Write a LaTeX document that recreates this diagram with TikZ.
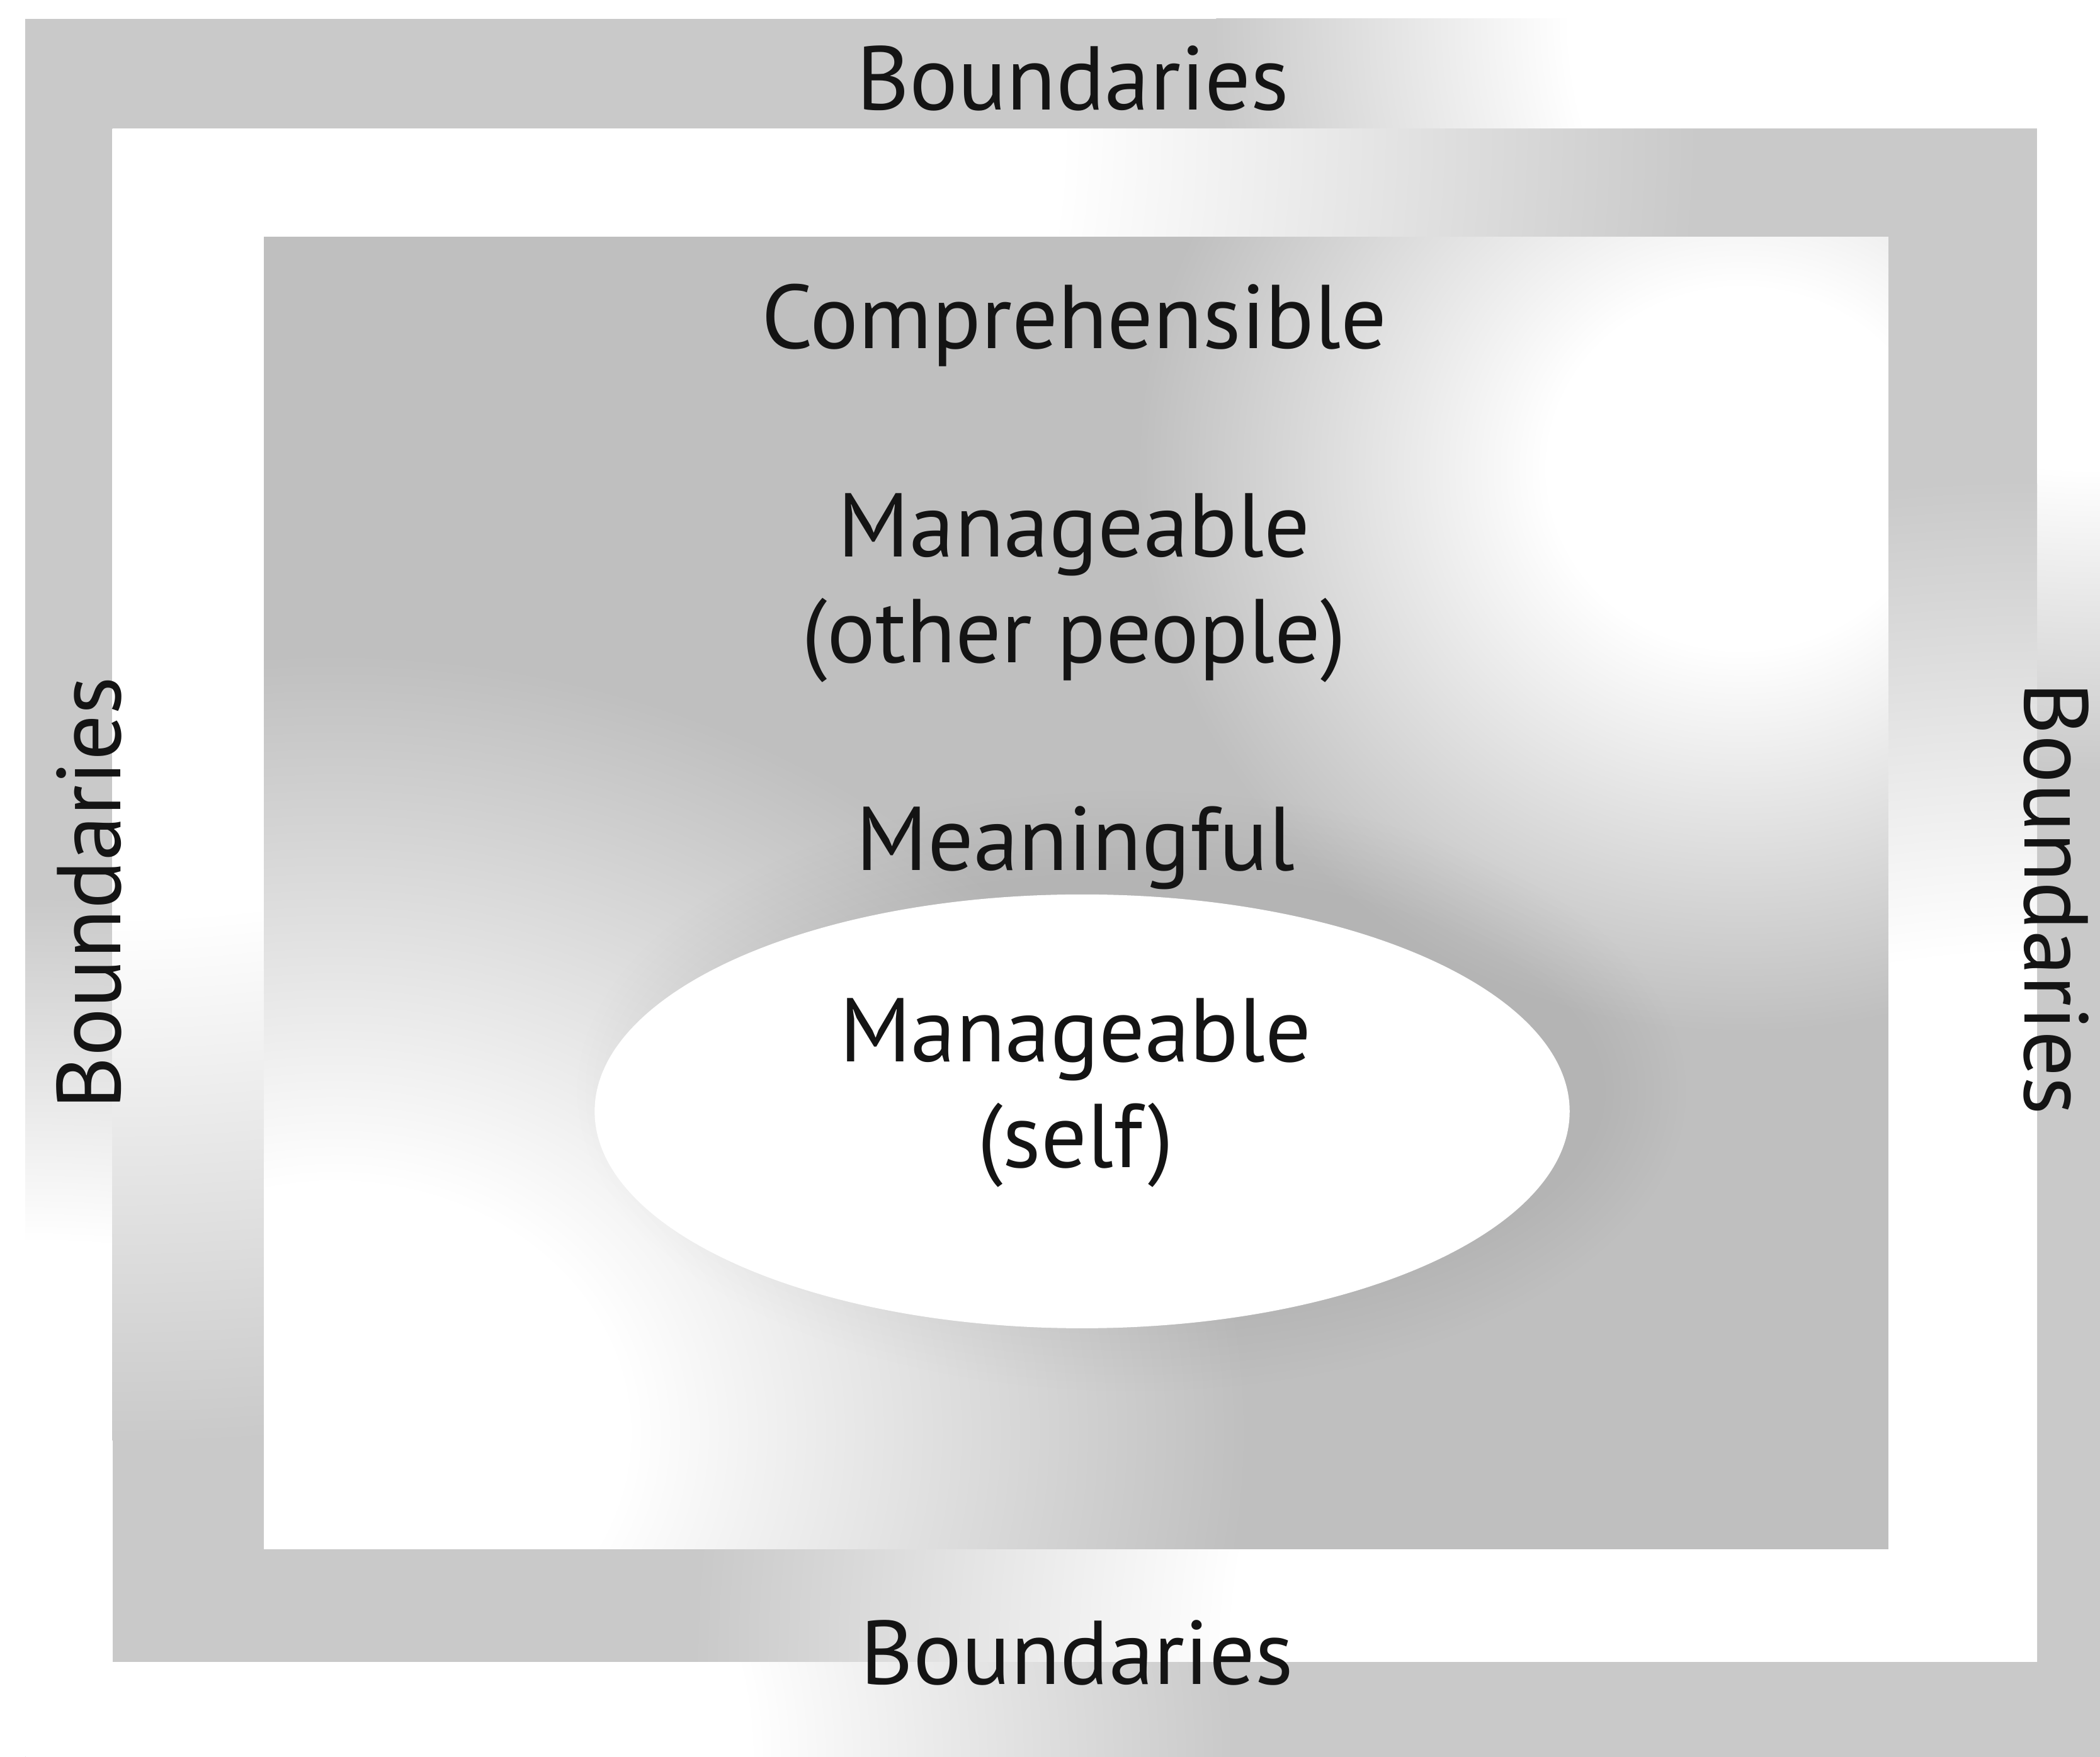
\documentclass[tikz,border=0pt]{standalone}
\usepackage{fontspec}
\setmainfont{PT Sans}

% tones of the three nested panels
\definecolor{framegray}{gray}{0.79}
\definecolor{innergray}{gray}{0.75}
\definecolor{inkcol}{gray}{0.08}

% soft white glows that fade into the panel tone at their rim
\pgfdeclareradialshading{glowframe}{\pgfpoint{0bp}{0bp}}{%
  color(0bp)=(white); color(15bp)=(white); color(25bp)=(framegray); color(50bp)=(framegray)}
\pgfdeclareradialshading{glowinner}{\pgfpoint{0bp}{0bp}}{%
  color(0bp)=(white); color(8bp)=(white); color(25bp)=(innergray); color(50bp)=(innergray)}

\begin{document}
\begin{tikzpicture}[x=0.02cm, y=-0.02cm,
  lbl/.style={font=\fontsize{38.5}{45}\selectfont, text=inkcol, inner sep=0pt, align=center}]

\useasboundingbox (0,0) rectangle (1568,1312);

% outer frame: grey, lighter towards upper right and lower left
\fill[framegray] (19,14) rectangle (1568,1312);
\begin{scope}
  \clip (19,14) rectangle (1568,1312);
  \shade[shading=glowframe] (1568,14) ellipse [x radius=660, y radius=560];
  \shade[shading=glowframe] (19,1312) ellipse [x radius=900, y radius=640];
\end{scope}

% middle band: grey, lighter towards upper left and lower right
\fill[framegray] (84,96) rectangle (1521,1241);
\begin{scope}
  \clip (84,96) rectangle (1521,1241);
  \shade[shading=glowframe] (84,96) ellipse [x radius=1180, y radius=980];
  \shade[shading=glowframe] (1521,1241) ellipse [x radius=1000, y radius=880];
\end{scope}

% inner panel with two bright patches
\fill[innergray] (197,177) rectangle (1410,1157);
\begin{scope}
  \clip (197,177) rectangle (1410,1157);
  \shade[shading=glowinner] (1300,350) ellipse [x radius=450, y radius=420];
  \shade[shading=glowinner] (250,1070) ellipse [x radius=680, y radius=580];
  % faint shadow round the central ellipse, heavier to the upper right
  \foreach \d in {4,10,...,64}
    \fill[black, fill opacity=0.0045] (845,815) ellipse [x radius=350+\d, y radius=160+\d];
\end{scope}

% central ellipse
\fill[white] (808,830) ellipse [x radius=364, y radius=162];

% labels
\node[lbl, anchor=base] (btop) at (801,82) {Boundaries};
\node[lbl, anchor=base] (comp) at (802,260) {Comprehensible};
\node[lbl, anchor=base] (mother) at (802,495) {Manageable\\(other people)};
\node[lbl, anchor=base] (mean) at (803,650) {Meaningful};
\node[lbl, anchor=base] (mself) at (803,872) {Manageable\\(self)};
\node[lbl, anchor=base] (bbot) at (804,1258) {Boundaries};
\node[lbl, anchor=base, rotate=90] (bleft) at (90,667) {Boundaries};
\node[lbl, anchor=base, rotate=-90] (bright) at (1512,671) {Boundaries};

\end{tikzpicture}
\end{document}
